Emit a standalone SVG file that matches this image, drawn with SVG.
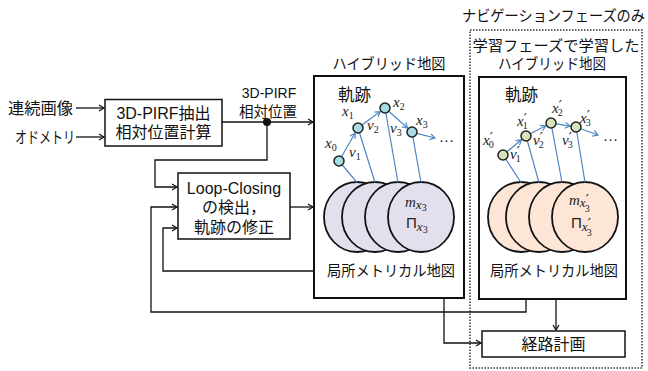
<svg xmlns="http://www.w3.org/2000/svg" width="648" height="371" viewBox="0 0 648 371">
<style>
.t{font-family:"Noto Sans CJK JP","Liberation Sans",sans-serif;fill:#111}
.l{font-family:"Liberation Sans","Noto Sans CJK JP",sans-serif;fill:#111}
.box{fill:#fff;stroke:#111;stroke-width:1.5}
.map{fill:#fff;stroke:#111;stroke-width:2}
.c{fill:none;stroke:#111;stroke-width:1.3}
.b{fill:none;stroke:#4f86c6;stroke-width:1.2}
.e1{fill:#e4dfec;stroke:#111;stroke-width:1.8}
.e2{fill:#fde6d6;stroke:#111;stroke-width:1.8}
.n1{fill:#a9dbe4;stroke:#222;stroke-width:1.5}
.n2{fill:#d6e3bc;stroke:#222;stroke-width:1.5}
.m{font-family:"Liberation Serif","DejaVu Serif",serif;font-style:italic;font-size:15px;fill:#222}
.s{font-style:normal;font-size:10px}
.p{font-family:"DejaVu Serif",serif;font-style:normal;font-size:14px}
</style>
<defs>
<marker id="ak" markerWidth="8" markerHeight="8" refX="6" refY="4" orient="auto" markerUnits="userSpaceOnUse">
<path d="M1,1 L6,4 L1,7" fill="none" stroke="#111" stroke-width="1.2"/>
</marker>
<marker id="ab" markerWidth="8" markerHeight="8" refX="6" refY="4" orient="auto" markerUnits="userSpaceOnUse">
<path d="M1,1 L6,4 L1,7" fill="none" stroke="#4f86c6" stroke-width="1.2"/>
</marker>
</defs>

<rect x="470" y="30" width="172" height="338" fill="none" stroke="#333" stroke-width="1.5" stroke-dasharray="1.5,1.5"/>
<text class="t" x="553.5" y="21" font-size="15" text-anchor="middle" textLength="183" lengthAdjust="spacingAndGlyphs">ナビゲーションフェーズのみ</text>

<g id="connectors">
<path class="c" d="M76,108 H104" marker-end="url(#ak)"/>
<path class="c" d="M76,137 H104" marker-end="url(#ak)"/>
<path class="c" d="M222,122 H313" marker-end="url(#ak)"/>
<path class="c" d="M267,122 V160 H155 V187 H177" marker-end="url(#ak)"/>
<path class="c" d="M290,207 H313" marker-end="url(#ak)"/>
<path class="c" d="M314,271 H163 V228 H177" marker-end="url(#ak)"/>
<path class="c" d="M526,299 V312 H151 V207 H177" marker-end="url(#ak)"/>
<path class="c" d="M444,298 V343 H481" marker-end="url(#ak)"/>
<path class="c" d="M556,299 V330" marker-end="url(#ak)"/>
<circle cx="267" cy="122" r="4" fill="#111"/>
<text class="l" x="269" y="98" font-size="14" text-anchor="middle">3D-PIRF</text>
<text class="t" x="268" y="117" font-size="14.5" text-anchor="middle">相対位置</text>
</g>

<g id="inputs">
<text class="t" x="8" y="114" font-size="16" textLength="65" lengthAdjust="spacingAndGlyphs">連続画像</text>
<text class="t" x="15" y="143" font-size="16" textLength="60" lengthAdjust="spacingAndGlyphs">オドメトリ</text>
</g>

<g id="pirf">
<rect class="box" x="105" y="99.5" width="117" height="46.5"/>
<text class="l" x="163.5" y="119" font-size="16" text-anchor="middle">3D-PIRF抽出</text>
<text class="t" x="163.5" y="138" font-size="16" text-anchor="middle">相対位置計算</text>
</g>

<g id="loop">
<rect class="box" x="178" y="173" width="112" height="66"/>
<text class="l" x="234" y="194" font-size="16" text-anchor="middle">Loop-Closing</text>
<text class="t" x="234" y="213" font-size="16" text-anchor="middle">の検出，</text>
<text class="t" x="234" y="233" font-size="16" text-anchor="middle">軌跡の修正</text>
</g>

<g id="hybrid">
<text class="t" x="389" y="68.5" font-size="15" text-anchor="middle" textLength="113" lengthAdjust="spacingAndGlyphs">ハイブリッド地図</text>
<rect class="map" x="314" y="76" width="150" height="222"/>
<text class="t" x="338" y="101" font-size="16.5">軌跡</text>
<ellipse class="e1" cx="357" cy="217" rx="33" ry="35"/>
<ellipse class="e1" cx="375" cy="217" rx="33" ry="35"/>
<ellipse class="e1" cx="398" cy="217" rx="33" ry="35"/>
<ellipse class="e1" cx="421" cy="217" rx="33" ry="35"/>
<text class="m" x="405" y="207" font-size="18">m<tspan font-size="13" dy="2">x</tspan><tspan class="s" font-size="10" dy="2">3</tspan></text>
<text class="m" x="406" y="228" font-size="18" style="font-style:normal;font-family:'Liberation Sans',sans-serif">Π<tspan style="font-family:'Liberation Serif',serif;font-style:italic" font-size="13" dy="3">x</tspan><tspan style="font-family:'Liberation Serif',serif" font-size="10" dy="2">3</tspan></text>
<path class="b" d="M339,161 L357,182.5 M358,128 L375,182.5 M385,108 L398,182.5 M412,132 L421,182.5"/>
<path class="b" d="M341.5,156.7 L355,133.2" marker-end="url(#ab)"/>
<path class="b" d="M362,125 L380.2,111.6" marker-end="url(#ab)"/>
<path class="b" d="M388.7,111.3 L407.5,128" marker-end="url(#ab)"/>
<path class="b" d="M416.8,133.3 L435,138" marker-end="url(#ab)"/>
<circle class="n1" cx="339" cy="161" r="5"/>
<circle class="n1" cx="358" cy="128" r="5"/>
<circle class="n1" cx="385" cy="108" r="5"/>
<circle class="n1" cx="412" cy="132" r="5"/>
<text class="m" x="325" y="148">x<tspan class="s" dy="3">0</tspan></text>
<text class="m" x="349" y="157">v<tspan class="s" dy="3">1</tspan></text>
<text class="m" x="342" y="116">x<tspan class="s" dy="3">1</tspan></text>
<text class="m" x="367" y="130">v<tspan class="s" dy="3">2</tspan></text>
<text class="m" x="393" y="107">x<tspan class="s" dy="3">2</tspan></text>
<text class="m" x="390" y="133">v<tspan class="s" dy="3">3</tspan></text>
<text class="m" x="416" y="125">x<tspan class="s" dy="3">3</tspan></text>
<text class="m" x="439" y="142" style="font-style:normal">…</text>
<text class="t" x="391" y="275.5" font-size="15" text-anchor="middle" textLength="128" lengthAdjust="spacingAndGlyphs">局所メトリカル地図</text>
</g>

<g id="nav">
<text class="t" x="556" y="50.5" font-size="15" text-anchor="middle" textLength="167" lengthAdjust="spacingAndGlyphs">学習フェーズで学習した</text>
<text class="t" x="552" y="68.5" font-size="15" text-anchor="middle" textLength="108" lengthAdjust="spacingAndGlyphs">ハイブリッド地図</text>
<rect class="map" x="479" y="77" width="147" height="222"/>
<text class="t" x="505" y="101" font-size="16.5">軌跡</text>
<ellipse class="e2" cx="521" cy="217" rx="33" ry="35"/>
<ellipse class="e2" cx="539" cy="217" rx="33" ry="35"/>
<ellipse class="e2" cx="562" cy="217" rx="33" ry="35"/>
<ellipse class="e2" cx="585" cy="217" rx="33" ry="35"/>
<text class="m" x="569" y="205" font-size="18">m<tspan font-size="13" dy="2">x</tspan><tspan class="p" dy="-2">′</tspan><tspan class="s" font-size="10" dx="-4" dy="7">3</tspan></text>
<text class="m" x="571" y="228" font-size="18" style="font-style:normal;font-family:'Liberation Sans',sans-serif">Π<tspan style="font-family:'Liberation Serif',serif;font-style:italic" font-size="13" dy="3">x</tspan><tspan class="p" dy="-2">′</tspan><tspan style="font-family:'Liberation Serif',serif" font-size="10" dx="-4" dy="7">3</tspan></text>
<path class="b" d="M503,155 L521,182.5 M526,136 L539,182.5 M551,123 L562,182.5 M576,127 L585,182.5"/>
<path class="b" d="M506.9,151.8 L521.4,139.8" marker-end="url(#ab)"/>
<path class="b" d="M530.4,133.7 L545.7,125.8" marker-end="url(#ab)"/>
<path class="b" d="M555.9,123.8 L570.1,126.1" marker-end="url(#ab)"/>
<path class="b" d="M580.7,128.7 L598,135" marker-end="url(#ab)"/>
<circle class="n2" cx="503" cy="155" r="5"/>
<circle class="n2" cx="526" cy="136" r="5"/>
<circle class="n2" cx="551" cy="123" r="5"/>
<circle class="n2" cx="576" cy="127" r="5"/>
<text class="m" x="483" y="145">x<tspan class="p" dy="-2">′</tspan><tspan class="s" dx="-4" dy="5">0</tspan></text>
<text class="m" x="510" y="159">v<tspan class="p" dy="-2">′</tspan><tspan class="s" dx="-4" dy="5">1</tspan></text>
<text class="m" x="517" y="126">x<tspan class="p" dy="-2">′</tspan><tspan class="s" dx="-4" dy="5">1</tspan></text>
<text class="m" x="533" y="145">v<tspan class="p" dy="-2">′</tspan><tspan class="s" dx="-4" dy="5">2</tspan></text>
<text class="m" x="552" y="113">x<tspan class="p" dy="-2">′</tspan><tspan class="s" dx="-4" dy="5">2</tspan></text>
<text class="m" x="562" y="145">v<tspan class="p" dy="-2">′</tspan><tspan class="s" dx="-4" dy="5">3</tspan></text>
<text class="m" x="580" y="123">x<tspan class="p" dy="-2">′</tspan><tspan class="s" dx="-4" dy="5">3</tspan></text>
<text class="m" x="603" y="141" style="font-style:normal">…</text>
<text class="t" x="554" y="275.5" font-size="15" text-anchor="middle" textLength="128" lengthAdjust="spacingAndGlyphs">局所メトリカル地図</text>
</g>

<g id="plan">
<rect class="box" x="482" y="331" width="143" height="26"/>
<text class="t" x="553.5" y="349.5" font-size="16" text-anchor="middle">経路計画</text>
</g>
</svg>
